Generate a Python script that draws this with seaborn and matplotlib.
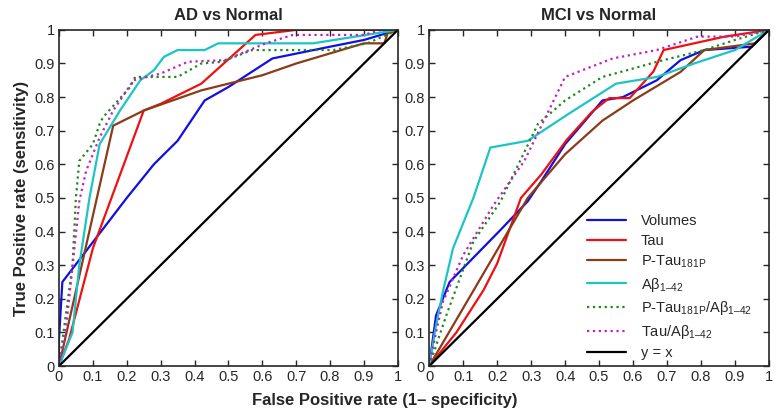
import matplotlib
matplotlib.use("Agg")
import matplotlib.pyplot as plt
import seaborn as sns
import pandas as pd

# AD vs Normal
ad_vol_x = [0, 0, 0.01, 0.2, 0.28, 0.35, 0.43, 0.5, 0.63, 0.8, 0.9, 1]
ad_vol_y = [0, 0.08, 0.25, 0.5, 0.6, 0.67, 0.79, 0.83, 0.915, 0.95, 0.97, 1]
ad_tau_x = [0, 0.03, 0.1, 0.25, 0.3, 0.42, 0.58, 0.7, 0.77, 1]
ad_tau_y = [0, 0.08, 0.35, 0.76, 0.78, 0.84, 0.985, 1, 1, 1]
ad_ptau_x = [0, 0.16, 0.25, 0.42, 0.6, 0.7, 0.8, 0.9, 0.96, 0.97, 1]
ad_ptau_y = [0, 0.715, 0.76, 0.82, 0.865, 0.9, 0.93, 0.96, 0.96, 0.99, 1]
ad_ab_x = [0, 0.04, 0.06, 0.09, 0.12, 0.18, 0.24, 0.28, 0.31, 0.35, 0.43, 0.47, 0.75, 1]
ad_ab_y = [0, 0.1, 0.3, 0.5, 0.66, 0.76, 0.85, 0.88, 0.92, 0.94, 0.94, 0.96, 0.96, 1]
ad_ptauab_x = [0, 0.02, 0.04, 0.05, 0.06, 0.1, 0.12, 0.13, 0.21, 0.225, 0.35, 0.42, 0.48, 0.57, 0.81, 0.91, 1]
ad_ptauab_y = [0, 0.15, 0.3, 0.5, 0.61, 0.66, 0.72, 0.74, 0.83, 0.86, 0.86, 0.9, 0.905, 0.94, 0.94, 0.96, 1]
ad_tauab_x = [0, 0.02, 0.03, 0.06, 0.08, 0.12, 0.16, 0.22, 0.3, 0.38, 0.49, 0.61, 0.69, 0.9, 0.95, 1]
ad_tauab_y = [0, 0.1, 0.2, 0.49, 0.58, 0.68, 0.76, 0.85, 0.87, 0.905, 0.91, 0.96, 0.985, 0.985, 1, 1]

# MCI vs Normal
mci_vol_x = [0, 0.02, 0.06, 0.21, 0.29, 0.33, 0.4, 0.51, 0.57, 0.67, 0.74, 0.81, 0.95, 1]
mci_vol_y = [0, 0.15, 0.25, 0.405, 0.49, 0.55, 0.66, 0.79, 0.8, 0.85, 0.91, 0.94, 0.95, 1]
mci_tau_x = [0, 0.08, 0.16, 0.2, 0.27, 0.33, 0.405, 0.48, 0.53, 0.59, 0.66, 0.69, 0.87, 1]
mci_tau_y = [0, 0.1, 0.226, 0.305, 0.5, 0.57, 0.673, 0.757, 0.797, 0.797, 0.876, 0.94, 0.98, 1]
mci_ptau_x = [0, 0.29, 0.4, 0.51, 0.6, 0.74, 0.81, 0.96, 1]
mci_ptau_y = [0, 0.5, 0.63, 0.73, 0.79, 0.875, 0.94, 0.96, 1]
mci_ab_x = [0, 0.02, 0.04, 0.07, 0.13, 0.18, 0.29, 0.41, 0.55, 0.67, 0.78, 0.9, 1]
mci_ab_y = [0, 0.12, 0.22, 0.35, 0.5, 0.65, 0.67, 0.75, 0.84, 0.86, 0.9, 0.94, 1]
mci_ptauab_x = [0, 0.05, 0.13, 0.21, 0.32, 0.4, 0.51, 0.6, 0.67, 0.81, 0.9, 1]
mci_ptauab_y = [0, 0.15, 0.37, 0.49, 0.72, 0.79, 0.86, 0.885, 0.905, 0.94, 0.97, 1]
mci_tauab_x = [0, 0.02, 0.04, 0.1, 0.19, 0.28, 0.4, 0.54, 0.67, 0.79, 0.9, 1]
mci_tauab_y = [0, 0.1, 0.19, 0.33, 0.48, 0.61, 0.86, 0.915, 0.94, 0.98, 0.98, 1]

diag = [0, 1]

labels = ["Volumes", "Tau", "P-Tau$_\\mathregular{181P}$", "Aβ$_\\mathregular{1–42}$",
          "P-Tau$_\\mathregular{181P}$/Aβ$_\\mathregular{1–42}$",
          "Tau/Aβ$_\\mathregular{1–42}$", "y = x"]
colors = ["#1010e0", "#ee1111", "#8b3a1a", "#1cc4c4", "#1a8a1a", "#c020c0", "black"]
styles = ["-", "-", "-", "-", ":", ":", "-"]

sns.set_style("ticks")
plt.rcParams['font.family'] = ['Liberation Sans', 'DejaVu Sans']
plt.rcParams['mathtext.fontset'] = 'custom'
plt.rcParams['mathtext.rm'] = 'Liberation Sans'

fig = plt.figure(figsize=(7.79, 4.15), dpi=100)
ax1 = fig.add_axes([0.0757, 0.118, 0.435, 0.81])
ax2 = fig.add_axes([0.551, 0.118, 0.436, 0.81])

panels = [
    (ax1, "AD vs Normal", [(ad_vol_x, ad_vol_y), (ad_tau_x, ad_tau_y), (ad_ptau_x, ad_ptau_y),
                          (ad_ab_x, ad_ab_y), (ad_ptauab_x, ad_ptauab_y), (ad_tauab_x, ad_tauab_y),
                          (diag, diag)]),
    (ax2, "MCI vs Normal", [(mci_vol_x, mci_vol_y), (mci_tau_x, mci_tau_y), (mci_ptau_x, mci_ptau_y),
                           (mci_ab_x, mci_ab_y), (mci_ptauab_x, mci_ptauab_y), (mci_tauab_x, mci_tauab_y),
                           (diag, diag)]),
]

ticks = [i / 10 for i in range(11)]
ticklabels = ["0"] + ["%.1f" % t for t in ticks[1:-1]] + ["1"]

for ax, title, curves in panels:
    for (xs, ys), lab, c, ls in zip(curves, labels, colors, styles):
        df = pd.DataFrame({"x": xs, "y": ys})
        sns.lineplot(data=df, x="x", y="y", ax=ax, color=c, linestyle=ls, lw=1.6,
                     sort=False, estimator=None, label=lab)
    ax.set_xlim(0, 1)
    ax.set_ylim(0, 1)
    ax.set_xticks(ticks)
    ax.set_yticks(ticks)
    ax.set_xticklabels(ticklabels, fontsize=10.5)
    ax.set_yticklabels(ticklabels, fontsize=10.5)
    ax.tick_params(direction="in", top=True, right=True, length=4, width=1, pad=3)
    for sp in ax.spines.values():
        sp.set_visible(True)
        sp.set_linewidth(1.2)
    ax.set_xlabel("")
    ax.set_ylabel("")
    ax.set_title(title, fontsize=12, fontweight="bold", pad=7)

ax1.get_legend().remove()
ax2.legend(loc="lower left", frameon=False, fontsize=10.5, handlelength=2.7,
           handletextpad=1.0, labelspacing=0.38, borderaxespad=0,
           bbox_to_anchor=(0.447, 0.0))

ax1.set_ylabel("True Positive rate (sensitivity)", fontsize=12, fontweight="bold", labelpad=4)
fig.text(0.494, 0.018, "False Positive rate (1\u2013 specificity)", ha="center", va="bottom",
         fontsize=12, fontweight="bold")

fig.savefig("out.png", dpi=100)
